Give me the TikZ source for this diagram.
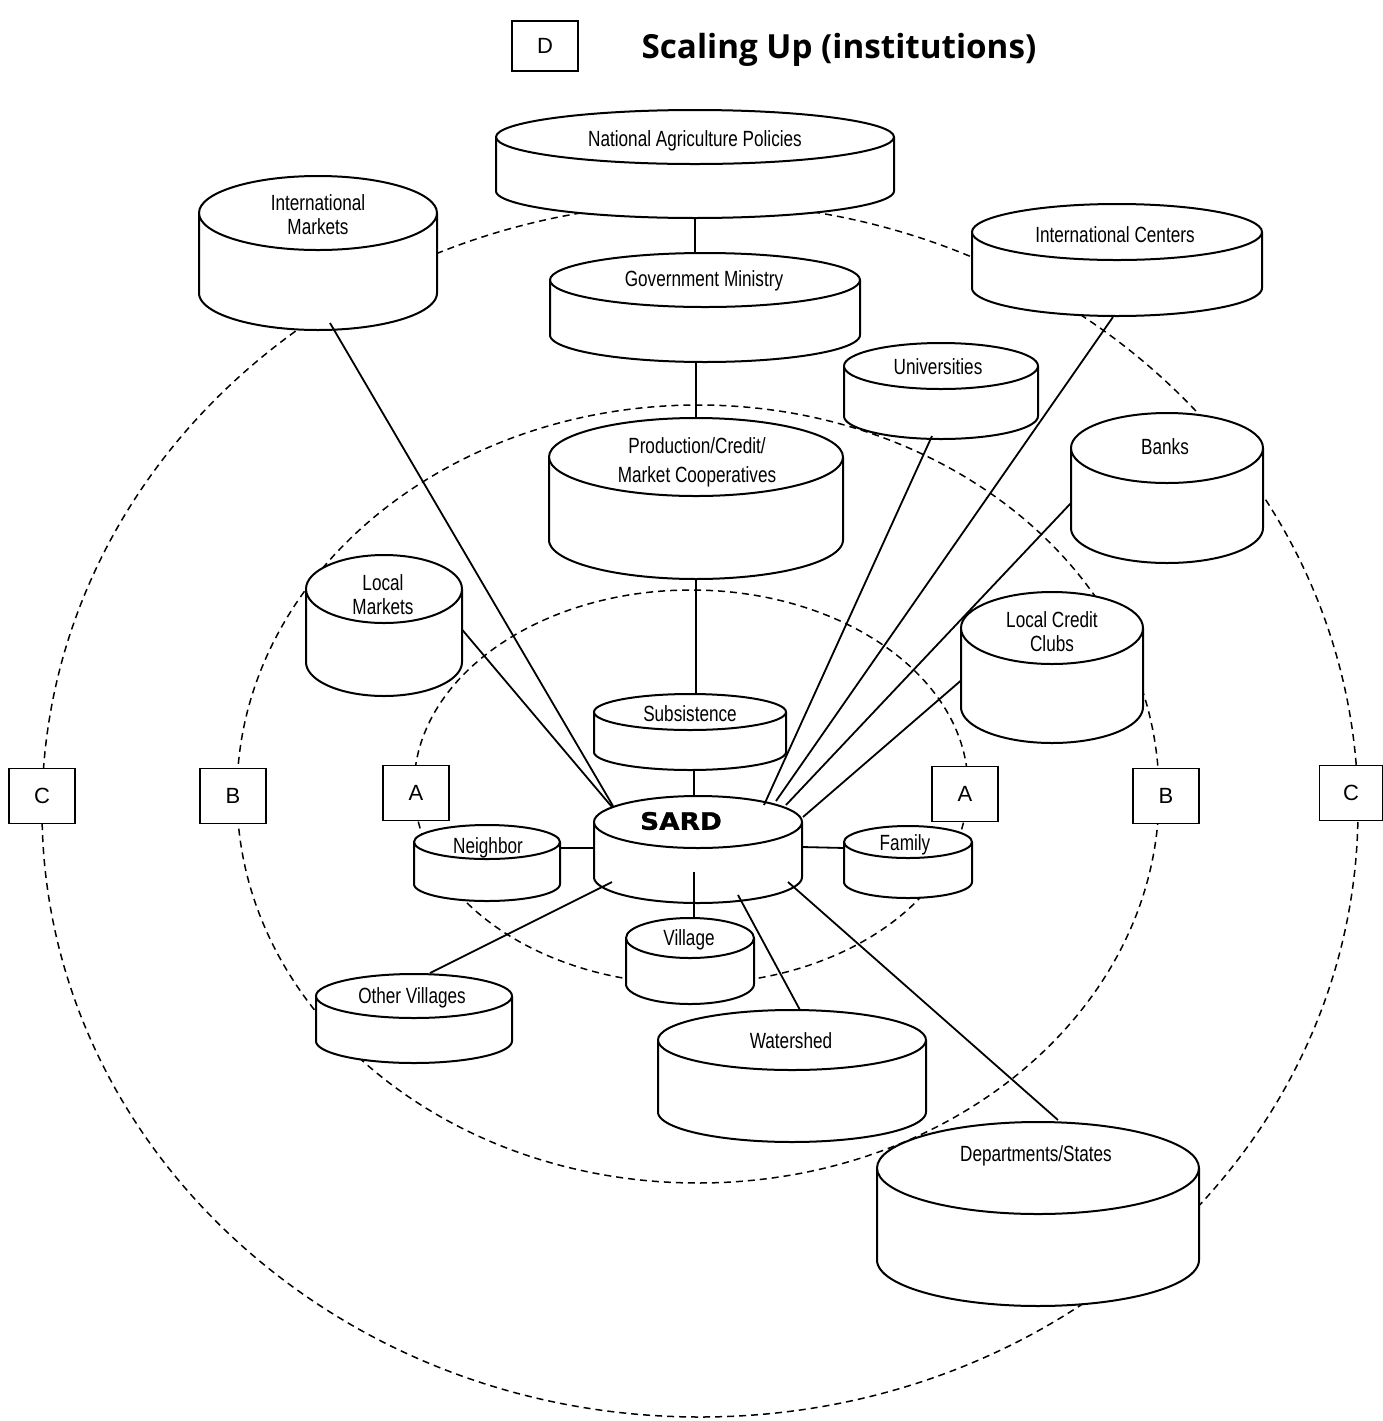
\documentclass[tikz,border=0pt]{standalone}
\usepackage{fontspec}
\usetikzlibrary{calc}
\newfontfamily\labfont[FakeStretch=0.78]{Liberation Sans}
\newfontfamily\boxfont{Liberation Sans}
\newfontfamily\titlefont{Open Sans}
\newfontfamily\hubfont[FakeStretch=1.1, BoldFeatures={FakeBold=1}]{DejaVu Sans}

\tikzset{
  drumline/.style={line width=1pt, line join=round},
  lab/.style={font=\labfont\fontsize{11}{12}\selectfont, align=center, inner sep=0pt},
  ring/.style={dash pattern=on 3.5pt off 2.5pt, line width=0.75pt},
  link/.style={line width=0.9pt},
  tag/.style={draw, fill=white, line width=0.9pt, inner sep=0pt,
    minimum width=33pt, minimum height=27.5pt,
    font=\boxfont\fontsize{11}{13}\selectfont},
}

% \drum{name}{cx}{cy}{rx}{ry}{height}: a white cylinder whose top ellipse
% is centred at (cx,cy); named points: name, name-n, name-s, name-w, name-e
\newcommand\drum[6]{%
  \path[fill=white] plot[domain=0:180,samples=61] ({#2+#4*cos(\x)},{#3+#6+#5*sin(\x)})
     -- ({#2-#4},{#3}) -- ({#2+#4},{#3}) -- cycle;
  \draw[drumline] ({#2+#4},{#3}) -- plot[domain=0:180,samples=61]
     ({#2+#4*cos(\x)},{#3+#6+#5*sin(\x)}) -- ({#2-#4},{#3});
  \draw[drumline,fill=white] (#2,#3) ellipse [x radius=#4, y radius=#5];
  \coordinate (#1) at (#2,#3);
  \coordinate (#1-n) at (#2,{#3-#5});
  \coordinate (#1-s) at (#2,{#3+#6+#5});
  \coordinate (#1-w) at ({#2-#4},{#3+#6/2});
  \coordinate (#1-e) at ({#2+#4},{#3+#6/2});
}

\begin{document}
\begin{tikzpicture}[x=0.5pt,y=-0.5pt]
\useasboundingbox (0,0) rectangle (1383,1421);

% the three scale rings
\draw[ring] (691,787) ellipse [x radius=277, y radius=197];
\draw[ring] (698,794) ellipse [x radius=461, y radius=389];
\draw[ring] (700,810) ellipse [x radius=658, y radius=607];

% title
\node[tag, minimum width=33pt, minimum height=25pt] (tagD) at (545,46) {D};
\node[font=\titlefont\bfseries\fontsize{16.6}{20}\selectfont, inner sep=0pt] (title) at (839,50) {Scaling Up (institutions)};

% institutions
\drum{nap}{695}{137}{199}{27}{54}
\drum{im}{318}{213}{119}{37}{80}
\drum{gov}{705}{280}{155}{27}{55}
\drum{ic}{1117}{232}{145}{28}{56}
\drum{univ}{941}{366}{97}{23}{50}
\drum{banks}{1167}{448}{96}{35}{80}
\drum{prod}{696}{457}{147}{39}{83}
\drum{lm}{384}{589}{78}{34}{73}
\drum{lcc}{1052}{628}{91}{36}{79}
\drum{subs}{690}{712}{96}{18}{40}
\drum{sard}{698}{822}{104}{26}{55}
\drum{nb}{487}{842}{73}{17}{42}
\drum{fam}{908}{842}{64}{16}{40}
\drum{vil}{690}{938}{64}{20}{46}
\drum{ov}{414}{996}{98}{22}{45}
\drum{ws}{792}{1040}{134}{30}{72}
\drum{dept}{1038}{1168}{161}{46}{92}

\node[lab] (nap-t) at (695,141) {National Agriculture Policies};
\node[lab] (im-t) at (318,215) {International\\Markets};
\node[lab] (gov-t) at (704,281) {Government Ministry};
\node[lab] (ic-t) at (1115,235) {International Centers};
\node[lab] (univ-t) at (938,367) {Universities};
\node[lab] (banks-t) at (1165,447) {Banks};
\node[lab, font=\labfont\fontsize{11}{14.5}\selectfont] (prod-t) at (697,462) {Production/Credit/\\Market Cooperatives};
\node[lab] (lm-t) at (383,595) {Local\\Markets};
\node[lab] (lcc-t) at (1052,632) {Local Credit\\Clubs};
\node[lab] (subs-t) at (690,714) {Subsistence};
\node[font=\hubfont\bfseries\fontsize{12}{14}\selectfont, inner sep=0pt] (sard-t) at (681,821) {SARD};
\node[lab] (nb-t) at (488,848) {Neighbor};
\node[lab] (fam-t) at (905,845) {Family};
\node[lab] (vil-t) at (689,940) {Village};
\node[lab] (ov-t) at (412,998) {Other Villages};
\node[lab] (ws-t) at (791,1041) {Watershed};
\node[lab] (dept-t) at (1036,1156) {Departments/States};

% ring tags
\node[tag] (tagCl) at (42,796) {C};
\node[tag] (tagBl) at (233,796) {B};
\node[tag] (tagAl) at (416,793) {A};
\node[tag] (tagAr) at (965,794) {A};
\node[tag] (tagBr) at (1166,796) {B};
\node[tag, minimum width=31.5pt] (tagCr) at (1351,793) {C};

% links
\draw[link] (nap-s) -- (nap-s |- gov-n);
\draw[link] (prod-n |- gov-s) -- (prod-n);
\draw[link] (prod-s) -- (prod-s |- subs-n);
\draw[link] ($(sard-n)+(-4,0)$) -- ($(sard-n |- subs-s)+(-4,0)$);
\draw[link] ($(im-s)+(12,-7)$) -- ($(sard)+(-85,-16)$);
\draw[link] ($(lm-e)+(0,4)$) -- ($(sard)+(-86,-15)$);
\draw[link] ($(univ-s)+(-9,-3)$) -- ($(sard)+(66,-17)$);
\draw[link] ($(ic-s)+(-4,1)$) -- ($(sard)+(78,-21)$);
\draw[link] ($(banks-w)+(0,15)$) -- ($(sard)+(88,-17)$);
\draw[link] ($(lcc-w)+(0,13)$) -- ($(sard)+(105,-5)$);
\draw[link] ($(sard)+(-104,26)$) -- ($(nb)+(73,6)$);
\draw[link] ($(sard)+(104,25)$) -- ($(fam)+(-63,6)$);
\draw[link] ($(sard)+(-4,50)$) -- ($(vil)+(4,-20)$);
\draw[link] ($(sard)+(-86,60)$) -- ($(ov)+(16,-23)$);
\draw[link] ($(sard)+(40,73)$) -- ($(ws)+(8,-30)$);
\draw[link] ($(sard)+(90,60)$) -- ($(dept)+(20,-48)$);
\end{tikzpicture}
\end{document}
